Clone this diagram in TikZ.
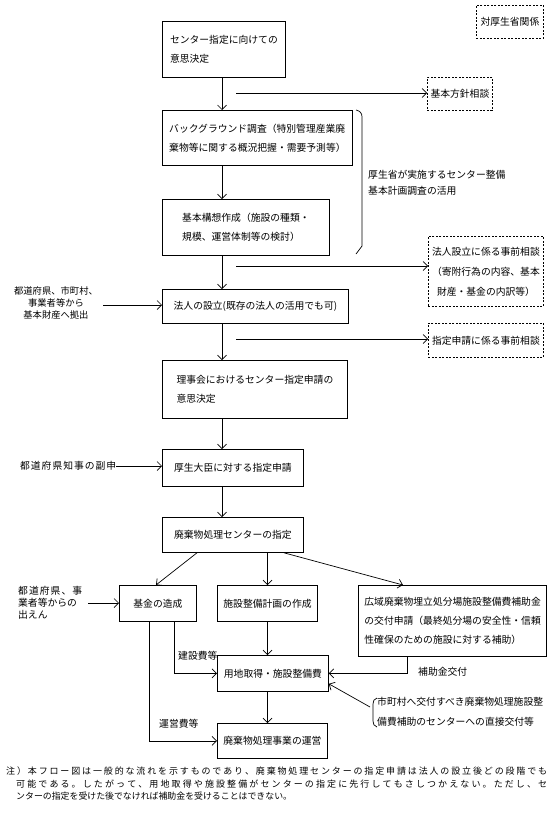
\documentclass[tikz,border=0pt]{standalone}
\usepackage{fontspec}
\newfontfamily\jp{Noto Sans CJK JP}
\usetikzlibrary{arrows.meta}
\def\spr#1{\sprA#1\relax}
\def\sprA#1{#1\sprB}
\def\sprB#1{\ifx#1\relax\else\hfil#1\expandafter\sprB\fi}
\begin{document}
\begin{tikzpicture}[x=1pt,y=-1pt,
  font=\jp\fontsize{9.8pt}{19pt}\selectfont,
  box/.style={draw, line width=0.8pt, anchor=north west, inner xsep=6pt, inner ysep=0pt, align=left},
  dbox/.style={draw, line width=0.8pt, dash pattern=on 2pt off 1.5pt, anchor=north west, inner xsep=3pt, inner ysep=0pt, align=left},
  arr/.style={-{Straight Barb[length=4.5pt,width=9pt]}, line width=0.7pt},
  ln/.style={line width=0.7pt},
  lbl/.style={anchor=west, inner sep=0pt, align=left}]
\fill[white] (0,0) rectangle (553,814);
\useasboundingbox (0,0) rectangle (553,814);
% dashed boxes
\node[dbox, minimum width=67pt, minimum height=33pt] (d0) at (476,5) {対厚生省関係};
\node[dbox, minimum width=65pt, minimum height=33pt] (d1) at (427,77) {基本方針相談};
\node[dbox, minimum width=115pt, minimum height=70pt] (d2) at (428,236) {法人設立に係る事前相談\\[1pt]（寄附行為の内容、基本\\[1pt]\hspace{5pt}財産・基金の内訳等）};
\node[dbox, minimum width=115pt, minimum height=34pt] (d3) at (428,323) {指定申請に係る事前相談};
% main boxes
\node[box, minimum width=123pt, minimum height=56pt] (b1) at (162,21) {センター指定に向けての\\意思決定};
\node[box, minimum width=190pt, minimum height=55pt] (b2) at (162,110) {バックグラウンド調査（特別管理産業廃\\棄物等に関する概況把握・需要予測等）};
\node[box, minimum width=167pt, minimum height=56pt] (b3) at (162,199) {基本構想作成（施設の種類・\\規模、運営体制等の検討）};
\node[box, minimum width=186pt, minimum height=34pt] (b4) at (162,289) {法人の設立(既存の法人の活用でも可)};
\node[box, minimum width=185pt, minimum height=58pt] (b5) at (162,360) {理事会におけるセンター指定申請の\\意思決定};
\node[box, minimum width=141pt, minimum height=37pt] (b6) at (162,449) {厚生大臣に対する指定申請};
\node[box, minimum width=141pt, minimum height=35pt] (b7) at (162,517) {廃棄物処理センターの指定};
\node[box, minimum width=77pt, minimum height=36pt] (b8) at (119,585) {基金の造成};
\node[box, minimum width=95pt, minimum height=36pt] (b9) at (217,585) {施設整備計画の作成};
\node[box, minimum width=187pt, minimum height=71pt] (b10) at (358,585) {広域廃棄物埋立処分場施設整備費補助金\\の交付申請（最終処分場の安全性・信頼\\性確保のための施設に対する補助）};
\node[box, minimum width=111pt, minimum height=36pt] (b11) at (217,655) {用地取得・施設整備費};
\node[box, minimum width=110pt, minimum height=35pt] (b12) at (217,723) {廃棄物処理事業の運営};
% side texts
\node[align=center, inner sep=0pt, font=\jp\fontsize{9.3pt}{12pt}\selectfont] (t1) at (56,303) {都道府県、市町村、\\事業者等から\\基本財産へ拠出};
\node[lbl] (t2) at (20,466) {\hbox to 96pt{\spr{都道府県知事の副申}}};
\node[lbl, font=\jp\fontsize{9.8pt}{12pt}\selectfont] (t3) at (18,603) {\hbox to 64pt{\spr{都道府県、事}}\\業者等からの\\出えん};
\node[lbl, font=\jp\fontsize{9.8pt}{16pt}\selectfont] (bt) at (368,183) {厚生省が実施するセンター整備\\基本計画調査の活用};
\node[lbl, font=\jp\fontsize{9.8pt}{20pt}\selectfont] (ct) at (377,712) {市町村へ交付すべき廃棄物処理施設整\\備費補助のセンターへの直接交付等};
\node[lbl] (l1) at (178,656) {建設費等};
\node[lbl] (l2) at (159,724) {運営費等};
\node[lbl] (l3) at (418,672) {補助金交付};
% note
\node[lbl, font=\jp\fontsize{9pt}{12pt}\selectfont] (n1) at (6,771) {\hbox to 541pt{\spr{注）本フロー図は一般的な流れを示すものであり、廃棄物処理センターの指定申請は法人の設立後どの段階でも}}};
\node[lbl, font=\jp\fontsize{9pt}{12pt}\selectfont] (n2) at (16,784) {\hbox to 531pt{\spr{可能である。したがって、用地取得や施設整備がセンターの指定に先行してもさしつかえない。ただし、セ}}};
\node[lbl, font=\jp\fontsize{8.9pt}{12pt}\selectfont] (n3) at (16,796) {ンターの指定を受けた後でなければ補助金を受けることはできない。};
% main flow
\coordinate (mx) at (222,0);
\draw[arr] (b1.south -| mx) -- (b2.north -| mx);
\draw[arr] (b2.south -| mx) -- (b3.north -| mx);
\draw[arr] (b3.south -| mx) -- (b4.north -| mx);
\draw[arr] (b4.south -| mx) -- (b5.north -| mx);
\draw[arr] (b5.south -| mx) -- (b6.north -| mx);
\draw[arr] (b6.south -| mx) -- (b7.north -| mx);
% side arrows
\coordinate (s1) at (236,93);
\coordinate (s2) at (236,266);
\coordinate (s3) at (236,339);
\draw[arr] (s1) -- (s1 -| d1.west);
\draw[arr] (s2) -- (s2 -| d2.west);
\draw[arr] (s3) -- (s3 -| d3.west);
\coordinate (a1) at (103,305);
\coordinate (a3) at (88,603);
\draw[arr] (a1) -- (a1 -| b4.west);
\draw[arr] (t2.east) -- (t2.east -| b6.west);
\draw[arr] (a3) -- (a3 -| b8.west);
% brace and bracket
\draw[ln] (356,110) .. controls (360,111) and (362,113) .. (362,117) -- (362,246) -- (356,254);
\draw[ln] (377,698) .. controls (374,699) and (373,701) .. (373,704) -- (373,721) .. controls (373,724) and (374,726) .. (377,727);
% lower flow
\draw[arr] ([xshift=35pt]b7.south west) -- ([xshift=37pt]b8.north west);
\draw[arr] (b9.north |- b7.south) -- (b9.north);
\draw[arr] ([xshift=122pt]b7.south west) -- ([xshift=45pt]b10.north west);
\draw[arr] ([xshift=30pt]b8.south west) |- (b12.west);
\draw[arr] ([xshift=55pt]b8.south west) |- (b11.west);
\draw[arr] (b9.south) -- (b9.south |- b11.north);
\draw[arr] ([xshift=49pt]b10.south west) |- (b11.east);
\draw[arr] (b11.south -| b9.south) -- (b12.north -| b9.south);
\coordinate (c1) at (370,707);
\draw[arr] (c1) -- ([yshift=8pt]b11.south east);
\end{tikzpicture}
\end{document}
